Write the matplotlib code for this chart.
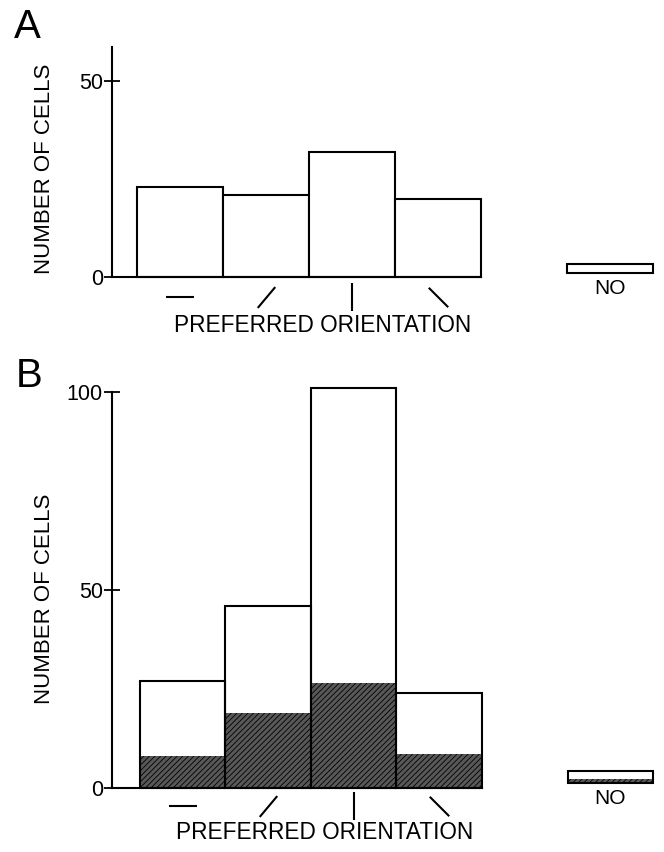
import matplotlib
matplotlib.use("Agg")
from matplotlib import pyplot as plt
import numpy as np

plt.rcParams['font.family'] = ['Liberation Sans', 'DejaVu Sans']
plt.rcParams['hatch.color'] = 'black'
plt.rcParams['hatch.linewidth'] = 0.6

# panel A: all cells per preferred orientation, plus non-oriented ("NO")
orient_pos = [0, 1, 2, 3]
a_counts = [23, 21, 32, 20]
a_no = 2.3

# panel B: totals and shaded subset
b_counts = [27, 46, 101, 24]
b_dark = [8, 19, 26.5, 8.6]
b_no = 2.9
b_no_dark = 1.0

no_pos = 5
no_offset = [1.0, 1.3]   # NO box floats a little above the baseline

# orientation glyphs: angle in degrees, marker size in points
glyph_angles = [0, 50, 90, -45]
glyph_sizes = [20, 15, 20, 14]

dark_face = '#585858'

fig = plt.figure(figsize=(6.64, 8.52), dpi=100)
axA = fig.add_axes([0.1687, 0.6749, 0.8277, 0.27])
axB = fig.add_axes([0.1687, 0.0751, 0.8277, 0.4742])


def style_axis(ax, xmin, ytop, yticks, spine_top):
	ax.set_xlim(xmin, 5.6)
	ax.set_ylim(0, ytop)
	for s in ['top', 'right']:
		ax.spines[s].set_visible(False)
	ax.spines['left'].set_linewidth(1.5)
	ax.spines['bottom'].set_linewidth(1.5)
	ax.spines['left'].set_bounds(0, spine_top)
	ax.spines['bottom'].set_bounds(xmin, 3.5)
	ax.set_xticks([])
	ax.set_yticks(yticks)
	ax.tick_params(axis='y', direction='inout', length=11, width=1.3, pad=1, labelsize=15.5)
	ax.set_ylabel("NUMBER OF CELLS", fontsize=16)


def draw_glyphs(ax, ypos):
	for x, ang, ms in zip(orient_pos, glyph_angles, glyph_sizes):
		t = np.deg2rad(ang)
		verts = [(-np.cos(t), -np.sin(t)), (np.cos(t), np.sin(t))]
		ax.plot([x], [ypos], marker=verts, ms=ms, mew=1.5, color='black',
			transform=ax.get_xaxis_transform(), clip_on=False, ls='none')


# ---- A ----
style_axis(axA, -0.79, 58.7, [0, 50], 58.7)
axA.bar(orient_pos, a_counts, width=1.0, color='white', edgecolor='black', linewidth=1.5, clip_on=False)
axA.bar([no_pos], [a_no], bottom=no_offset[0], width=1.0, color='white', edgecolor='black', linewidth=1.5)
draw_glyphs(axA, -0.087)
axA.text(1.66, -0.209, "PREFERRED ORIENTATION", transform=axA.get_xaxis_transform(),
	ha='center', va='center', fontsize=16.3)
axA.text(no_pos, -0.05, "NO", transform=axA.get_xaxis_transform(), ha='center', va='center', fontsize=15)
axA.yaxis.set_label_coords(-0.104, 0.47)

# ---- B ----
style_axis(axB, -0.826, 102, [0, 50, 100], 100)
axB.bar(orient_pos, b_dark, width=1.0, color=dark_face, edgecolor='black', linewidth=0, hatch='//////')
axB.bar(orient_pos, b_counts, width=1.0, fill=False, edgecolor='black', linewidth=1.5, clip_on=False)
axB.bar([no_pos], [b_no_dark], bottom=no_offset[1], width=1.0, color=dark_face, edgecolor='black',
	linewidth=0, hatch='//////')
axB.bar([no_pos], [b_no], bottom=no_offset[1], width=1.0, fill=False, edgecolor='black', linewidth=1.5)
draw_glyphs(axB, -0.044)
axB.text(1.66, -0.111, "PREFERRED ORIENTATION", transform=axB.get_xaxis_transform(),
	ha='center', va='center', fontsize=16.3)
axB.text(no_pos, -0.025, "NO", transform=axB.get_xaxis_transform(), ha='center', va='center', fontsize=15)
axB.yaxis.set_label_coords(-0.104, 0.468)

fig.text(27 / 664, 1 - 27 / 852, "A", fontsize=29, ha='center', va='center')
fig.text(29 / 664, 1 - 376 / 852, "B", fontsize=29, ha='center', va='center')

fig.savefig("out.png", dpi=100)
